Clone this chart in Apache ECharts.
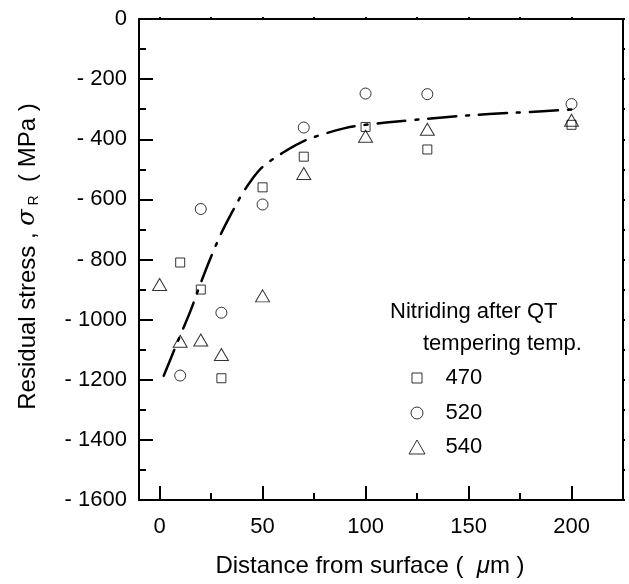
<!DOCTYPE html>
<html>
<head>
<meta charset="utf-8">
<script src="https://cdn.jsdelivr.net/npm/echarts@6/dist/echarts.min.js"></script>
<style>html,body{margin:0;padding:0;background:#fff}#c{width:629px;height:584px}</style>
</head>
<body>
<div id="c"></div>
<script>
// ---- data ----
const xTicksMajor = [0, 50, 100, 150, 200];
const xTicksMinor = [25, 75, 125, 175];
const xTicksTop = [0, 25, 50, 75, 100, 125, 150, 175, 200];

const x470 = [10, 20, 30, 50, 70, 100, 130, 200];
const y470 = [-810, -900, -1195, -560, -458, -359, -434, -352];

const x520 = [10, 20, 30, 50, 70, 100, 130, 200];
const y520 = [-1186, -632, -977, -617, -361, -248, -250, -283];

const x540 = [0, 10, 20, 30, 50, 70, 100, 130, 200];
const y540 = [-883, -1072, -1068, -1116, -921, -514, -390, -367, -337];

const xFit = [2, 7, 10, 15, 20, 25, 30, 35, 40, 45, 50, 60, 70, 80, 90, 100, 120, 140, 160, 180, 200];
const yFit = [-1187, -1103, -1053, -971, -878, -791, -712, -645, -583, -532, -492, -444, -406, -382, -363, -352, -338, -326, -316, -309, -301];

const legendNames = ['470', '520', '540'];
const legendTitle1 = 'Nitriding after QT';
const legendTitle2 = 'tempering temp.';

const zip = (xs, ys) => xs.map((x, i) => [x, ys[i]]);
const FONT = '"Liberation Sans", Arial, sans-serif';
const FS = 22;
const FT = 24;

const markerStyle = { color: 'transparent', borderColor: '#000', borderWidth: 1 };

const chart = echarts.init(document.getElementById('c'), null, { renderer: 'canvas' });

const iconSquare = 'path://M0,0H10V10H0Z';
const iconCircle = 'path://M0,5A5,5 0 1,1 10,5A5,5 0 1,1 0,5Z';
const iconTri = 'path://M8,0L16,14L0,14Z';

function mkLegend(name, icon, w, h, cy) {
  const W = 47;
  return {
    data: [{ name: name, icon: icon }],
    left: 416.5 - w / 2,
    top: cy - 11,
    padding: 0,
    itemWidth: W,
    itemHeight: h,
    symbolKeepAspect: true,
    selectedMode: false,
    itemStyle: { color: 'transparent', borderColor: '#000', borderWidth: 1 },
    textStyle: { fontFamily: FONT, fontSize: FS, color: '#000', lineHeight: 22 }
  };
}

const option = {
  animation: false,
  backgroundColor: '#fff',
  textStyle: { fontFamily: FONT },
  grid: { left: 139, right: 6, top: 19, bottom: 84, containLabel: false },
  xAxis: [
    {
      type: 'value', min: -10, max: 225, position: 'bottom',
      axisLine: { show: true, onZero: false, lineStyle: { color: '#000', width: 2 } },
      axisTick: { show: true, inside: true, length: 14, customValues: xTicksMajor, lineStyle: { color: '#000', width: 2 } },
      axisLabel: { show: true, customValues: xTicksMajor, fontSize: FS, color: '#000', margin: 16, fontFamily: FONT },
      splitLine: { show: false },
      name: '{a|Distance from surface (  }{m|μ}{a|m )}',
      nameLocation: 'middle', nameGap: 54,
      nameTextStyle: {
        padding: [0, 22, 0, 0],
        rich: {
          a: { fontSize: FT, fontFamily: FONT, color: '#000' },
          m: { fontSize: FT, fontFamily: FONT, fontStyle: 'italic', color: '#000' }
        }
      }
    },
    {
      type: 'value', min: -10, max: 225, position: 'bottom',
      axisLine: { show: false, onZero: false },
      axisTick: { show: true, inside: true, length: 7, customValues: xTicksMinor, lineStyle: { color: '#000', width: 2 } },
      axisLabel: { show: false },
      splitLine: { show: false }
    },
    {
      type: 'value', min: -10, max: 225, position: 'top',
      axisLine: { show: true, onZero: false, lineStyle: { color: '#000', width: 2 } },
      axisTick: { show: true, inside: false, length: 2, customValues: xTicksTop, lineStyle: { color: '#000', width: 2 } },
      axisLabel: { show: false },
      splitLine: { show: false }
    }
  ],
  yAxis: [
    {
      type: 'value', min: -1600, max: 0, interval: 200, position: 'left',
      axisLine: { show: true, onZero: false, lineStyle: { color: '#000', width: 2 } },
      axisTick: { show: true, inside: true, length: 14, lineStyle: { color: '#000', width: 2 } },
      minorTick: { show: true, splitNumber: 2, length: 7, lineStyle: { color: '#000', width: 2 } },
      axisLabel: {
        fontSize: FS, color: '#000', margin: 12, fontFamily: FONT,
        formatter: v => (v === 0 ? '0' : '- ' + Math.abs(v))
      },
      splitLine: { show: false },
      name: '{a|Residual stress , }{s|σ}{r| R}{a|  ( MPa )}',
      nameLocation: 'middle', nameGap: 98,
      nameTextStyle: {
        padding: [0, 0, 0, 6],
        rich: {
          a: { fontSize: FT, fontFamily: FONT, color: '#000', lineHeight: 26 },
          s: { fontSize: FT, fontFamily: '"DejaVu Serif", serif', fontStyle: 'italic', color: '#000', lineHeight: 26 },
          r: { fontSize: 14, fontFamily: FONT, color: '#000', verticalAlign: 'bottom', lineHeight: 22 }
        }
      }
    },
    {
      type: 'value', min: -1600, max: 0, interval: 100, position: 'right',
      axisLine: { show: true, onZero: false, lineStyle: { color: '#000', width: 2 } },
      axisTick: { show: true, inside: false, length: 2, lineStyle: { color: '#000', width: 2 } },
      axisLabel: { show: false },
      splitLine: { show: false }
    }
  ],
  legend: [
    mkLegend(legendNames[0], iconSquare, 10, 10, 378),
    mkLegend(legendNames[1], iconCircle, 12, 12, 413),
    mkLegend(legendNames[2], iconTri, 16, 14, 447)
  ],
  graphic: [
    { type: 'text', left: 390, top: 312 - 11, style: { text: legendTitle1, font: FS + 'px ' + FONT, fill: '#000' } },
    { type: 'text', left: 423, top: 344 - 11, style: { text: legendTitle2, font: FS + 'px ' + FONT, fill: '#000' } }
  ],
  series: [
    {
      type: 'line', name: 'fit', data: zip(xFit, yFit), smooth: 0.35, showSymbol: false, symbol: 'none',
      lineStyle: { color: '#000', width: 2.5, type: [28, 10, 3, 10], cap: 'round' }, z: 1, silent: true
    },
    { type: 'scatter', name: legendNames[0], data: zip(x470, y470), symbol: 'rect', symbolSize: 9, itemStyle: markerStyle, z: 3 },
    { type: 'scatter', name: legendNames[1], data: zip(x520, y520), symbol: 'circle', symbolSize: 11, itemStyle: markerStyle, z: 3 },
    { type: 'scatter', name: legendNames[2], data: zip(x540, y540), symbol: 'triangle', symbolSize: [14, 12], itemStyle: markerStyle, z: 3 }
  ]
};
chart.setOption(option);
</script>
</body>
</html>
